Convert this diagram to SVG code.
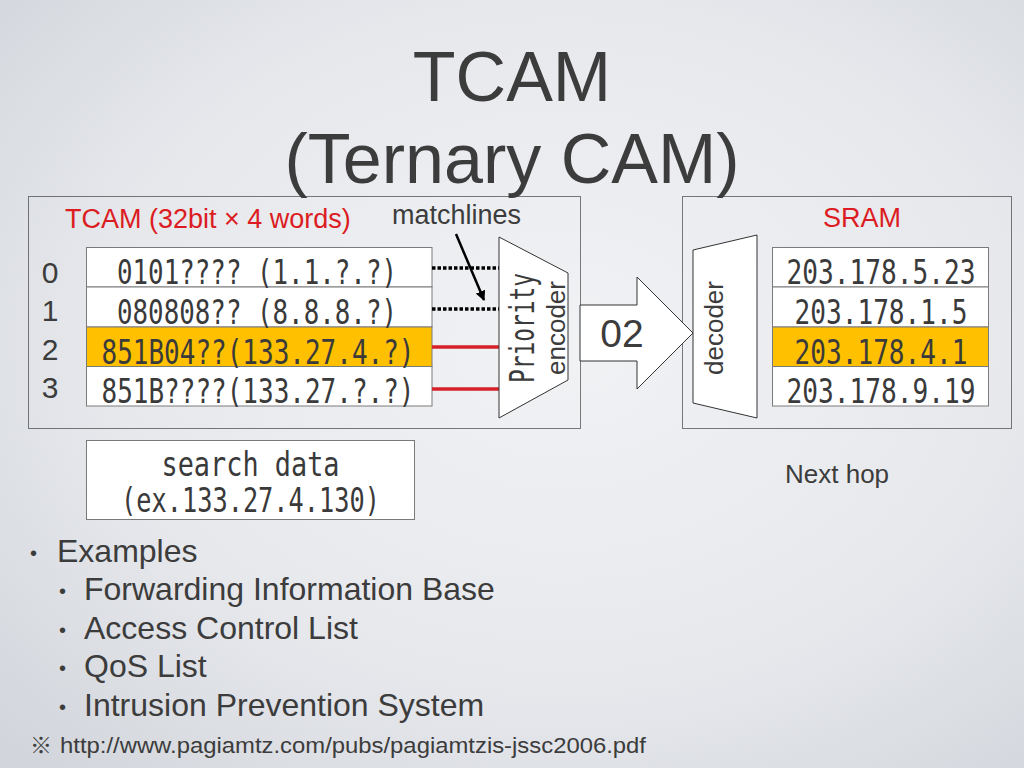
<svg xmlns="http://www.w3.org/2000/svg" width="1024" height="768" viewBox="0 0 1024 768">
<defs>
<radialGradient id="bg" cx="0.55" cy="0.45" r="0.75">
<stop offset="0" stop-color="#f1f2f4"/>
<stop offset="0.6" stop-color="#e6e8ec"/>
<stop offset="1" stop-color="#d2d5db"/>
</radialGradient>
<marker id="ah" viewBox="0 0 10 10" refX="9" refY="5" markerWidth="4" markerHeight="4" orient="auto" markerUnits="strokeWidth">
<path d="M0,0 L10,5 L0,10 Z" fill="#000"/>
</marker>
<style>
.sans{font-family:"Liberation Sans",Arial,sans-serif;fill:#3c3c3c}
.mono{font-family:"DejaVu Sans Mono","Liberation Mono",monospace;fill:#3a3a3a;font-size:33px}
.red{fill:#dc1c22}
.cell{fill:#ffffff;stroke:#7a7a7a;stroke-width:1}
.hl{fill:#ffc000;stroke:#7a7a7a;stroke-width:1}
.dotbox{fill:none;stroke:#000;stroke-width:1;stroke-dasharray:1 1}
.shape{fill:#ffffff;stroke:#333;stroke-width:1}
.ml{stroke:#000;stroke-width:3.5;stroke-dasharray:3.5 2;fill:none}
.rl{stroke:#d6202a;stroke-width:3.5;fill:none}
</style>
</defs>
<rect width="1024" height="768" fill="url(#bg)"/>

<g id="frames">
<rect class="dotbox" x="28.5" y="196.5" width="552" height="232"/>
<rect class="dotbox" x="682.5" y="196.5" width="329" height="232"/>
</g>

<g id="title">
<text class="sans" x="512" y="101" font-size="70" text-anchor="middle">TCAM</text>
<text class="sans" x="512" y="183" font-size="70" text-anchor="middle">(Ternary CAM)</text>
</g>

<g id="labels">
<text class="sans red" x="65" y="228" font-size="27">TCAM (32bit × 4 words)</text>
<text class="sans" x="392" y="224" font-size="27">matchlines</text>
<text class="sans red" x="823" y="227" font-size="27">SRAM</text>
<text class="sans" x="785" y="483" font-size="26">Next hop</text>
</g>

<g id="row-numbers" class="sans" font-size="30">
<text x="50" y="283" text-anchor="middle">0</text>
<text x="50" y="321" text-anchor="middle">1</text>
<text x="50" y="360" text-anchor="middle">2</text>
<text x="50" y="398" text-anchor="middle">3</text>
</g>

<g id="tcam-table">
<rect class="cell" x="86.5" y="247.5" width="345.5" height="39.5"/>
<rect class="cell" x="86.5" y="287" width="345.5" height="40"/>
<rect class="hl" x="86.5" y="327" width="345.5" height="39.5"/>
<rect class="cell" x="86.5" y="366.5" width="345.5" height="39.5"/>
<text class="mono" x="257" y="284" text-anchor="middle" textLength="280" lengthAdjust="spacingAndGlyphs">0101???? (1.1.?.?)</text>
<text class="mono" x="257" y="323.5" text-anchor="middle" textLength="280" lengthAdjust="spacingAndGlyphs">080808?? (8.8.8.?)</text>
<text class="mono" x="258" y="363.5" text-anchor="middle" textLength="313" lengthAdjust="spacingAndGlyphs">851B04??(133.27.4.?)</text>
<text class="mono" x="258" y="403" text-anchor="middle" textLength="313" lengthAdjust="spacingAndGlyphs">851B????(133.27.?.?)</text>
</g>

<g id="connectors">
<line class="ml" x1="432" y1="268" x2="499" y2="268"/>
<line class="ml" x1="432" y1="309" x2="499" y2="309"/>
<line class="rl" x1="432" y1="347" x2="499" y2="347"/>
<line class="rl" x1="432" y1="389" x2="499" y2="389"/>
<line x1="456" y1="234" x2="484" y2="300" stroke="#000" stroke-width="2.5" marker-end="url(#ah)"/>
</g>

<g id="priority-encoder">
<polygon class="shape" points="499,237 568,273 568,380 499,418"/>
<text class="mono" transform="translate(534,328) rotate(-90)" text-anchor="middle" textLength="110" lengthAdjust="spacingAndGlyphs">Priority</text>
<text class="sans" transform="translate(565,328) rotate(-90)" font-size="26" text-anchor="middle">encoder</text>
</g>

<g id="output-arrow">
<polygon class="shape" points="580,305 637,305 637,277 693,333 637,389 637,361 580,361"/>
<text class="sans" x="622" y="347" font-size="39" text-anchor="middle">02</text>
</g>

<g id="decoder">
<polygon class="shape" points="693,250 757,235 757,418 693,403"/>
<text class="sans" transform="translate(723,328) rotate(-90)" font-size="26" text-anchor="middle">decoder</text>
</g>

<g id="sram-table">
<rect class="cell" x="772.5" y="247.5" width="216" height="39.5"/>
<rect class="cell" x="772.5" y="287" width="216" height="40"/>
<rect class="hl" x="772.5" y="327" width="216" height="39.5"/>
<rect class="cell" x="772.5" y="366.5" width="216" height="39.5"/>
<text class="mono" x="881" y="284" text-anchor="middle" textLength="189" lengthAdjust="spacingAndGlyphs">203.178.5.23</text>
<text class="mono" x="881" y="323.5" text-anchor="middle" textLength="173" lengthAdjust="spacingAndGlyphs">203.178.1.5</text>
<text class="mono" x="881" y="363.5" text-anchor="middle" textLength="173" lengthAdjust="spacingAndGlyphs">203.178.4.1</text>
<text class="mono" x="881" y="403" text-anchor="middle" textLength="189" lengthAdjust="spacingAndGlyphs">203.178.9.19</text>
</g>

<g id="search-data">
<rect class="cell" x="86.5" y="440.5" width="328" height="79"/>
<text class="mono" x="250.5" y="476" font-size="30" text-anchor="middle" textLength="178" lengthAdjust="spacingAndGlyphs">search data</text>
<text class="mono" x="250.5" y="512" font-size="30" text-anchor="middle" textLength="259" lengthAdjust="spacingAndGlyphs">(ex.133.27.4.130)</text>
</g>

<g id="examples" class="sans" font-size="32">
<text x="30" y="560" font-size="20">•</text>
<text x="57" y="562">Examples</text>
<text x="59" y="598" font-size="20">•</text>
<text x="84" y="600">Forwarding Information Base</text>
<text x="59" y="637" font-size="20">•</text>
<text x="84" y="639">Access Control List</text>
<text x="59" y="675" font-size="20">•</text>
<text x="84" y="677">QoS List</text>
<text x="59" y="714" font-size="20">•</text>
<text x="84" y="716">Intrusion Prevention System</text>
</g>

<g id="source">
<text x="30" y="753" font-size="22" style="font-family:'Liberation Sans','Noto Sans CJK JP',sans-serif;fill:#3c3c3c">※</text>
<text class="sans" x="60" y="753" font-size="22" textLength="586" lengthAdjust="spacingAndGlyphs">http://www.pagiamtz.com/pubs/pagiamtzis-jssc2006.pdf</text>
</g>
</svg>
